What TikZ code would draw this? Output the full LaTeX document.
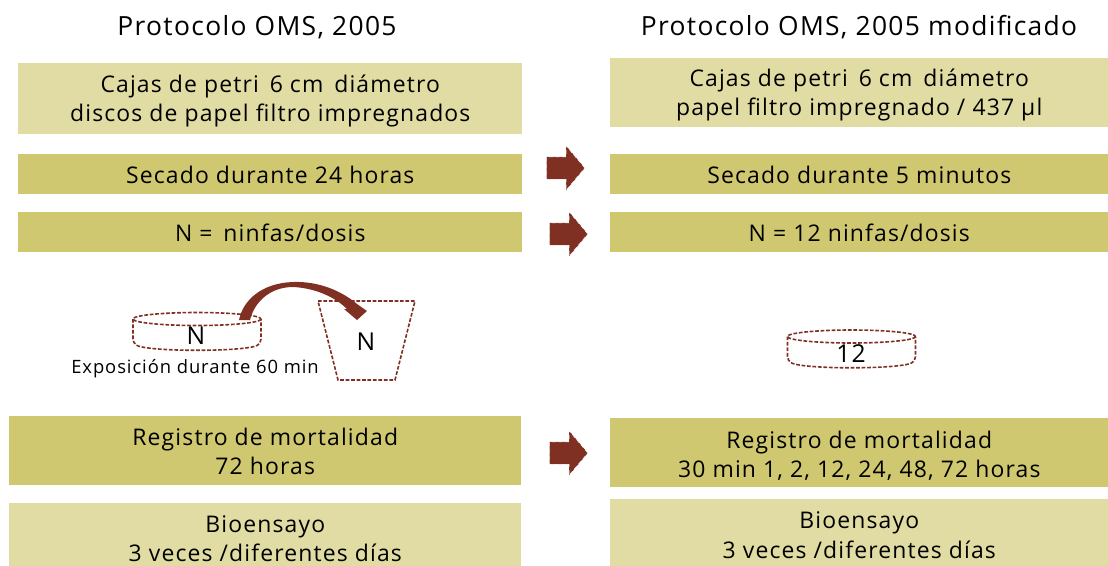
\documentclass[tikz,border=0pt]{standalone}
\usepackage{fontspec}
\setmainfont{Open Sans}[LetterSpace=5]
\usepackage{tikz}
\usetikzlibrary{positioning,shapes.arrows}
\definecolor{pale}{HTML}{E0DCA3}
\definecolor{olive}{HTML}{CFC870}
\definecolor{brick}{HTML}{7F3022}
\newcommand{\dropline}[1][16.5pt]{\rule{0pt}{#1}}

\begin{document}
\begin{tikzpicture}[
  x=0.75pt, y=-0.75pt,
  font=\fontsize{17.2}{22}\selectfont,
  head/.style={font=\fontsize{19.8}{22}\selectfont},
  mark letter/.style={font=\fontsize{18.5}{22}\selectfont},
  bar/.style={align=center, inner sep=0pt, anchor=north west, minimum width=#1*0.75pt,
    execute at begin node=\rule{0pt}{18pt}, execute at end node=\rule[-4pt]{0pt}{4pt}},
  lite/.style={bar=#1, fill=pale},
  dark/.style={bar=#1, fill=olive},
  slim/.style={minimum height=30pt},
  tall/.style={minimum height=51.75pt},
  blockarr/.style={single arrow, fill=brick, draw=white, densely dashed, line width=0.3pt, inner sep=0pt, inner ysep=8.25pt,
    single arrow head extend=8.25pt, single arrow tip angle=100, minimum height=28.5pt, anchor=tip},
  dashline/.style={draw=brick, line width=1.2pt, dash pattern=on 2.8pt off 1.3pt},
  dish/.pic={
    \draw[dashline, rounded corners=3pt] (-64,-13) -- (-64,11) .. controls (-50,20) and (50,20) .. (64,11) -- (64,-13);
    \draw[dashline] (0,-13) ellipse [x radius=64, y radius=6.5];
  }]
\useasboundingbox (0,0) rectangle (1108,565);
% left column
\node[head] (titleL) at (257,27) {Protocolo OMS, 2005};
\node[lite=504, tall, minimum height=53.25pt] (cajasL) at (18,63) {\dropline Cajas de petri\, 6 cm\, diámetro\\discos de papel filtro impregnados};
\node[dark=504, slim, below=14.25pt of cajasL.south west, anchor=north west] (secadoL) {Secado durante 24 horas};
\node[dark=504, slim, below=13.5pt of secadoL.south west, anchor=north west] (ninfasL) {N =\, ninfas/dosis};
\node[dark=512, tall] (registroL) at (9,416) {\dropline[18pt]Registro de mortalidad\\72 horas};
\node[lite=512, minimum height=53.5pt] (bioL) at (9,503) {\dropline Bioensayo\\3 veces /diferentes días};
% right column
\node[head] (titleR) at (859,27) {Protocolo OMS, 2005 modificado};
\node[lite=498, tall] (cajasR) at (610,58) {\dropline Cajas de petri\, 6 cm\, diámetro\\papel filtro impregnado / 437 µl};
\node[dark=498, slim, below=19.5pt of cajasR.south west, anchor=north west] (secadoR) {Secado durante 5 minutos};
\node[dark=498, slim, below=13.5pt of secadoR.south west, anchor=north west] (ninfasR) {N = 12 ninfas/dosis};
\node[dark=498, tall] (registroR) at (610,418) {\dropline[19pt]Registro de mortalidad\\30 min 1, 2, 12, 24, 48, 72 horas};
\node[lite=498, minimum height=54pt] (bioR) at (610,499) {\dropline Bioensayo\\3 veces /diferentes días};
% block arrows
\node[blockarr] (arrA) at (585,168) {};
\node[blockarr] (arrB) at (588,234) {};
\node[blockarr] (arrC) at (588,453) {};
% dishes and cup
\pic at (197,332) {dish};
\pic at (851.5,349.5) {dish};
\draw[dashline] (318,301) -- (415,301) -- (395,380) -- (338,380) -- cycle;
\node[mark letter] (nDish) at (196,336) {N};
\node[mark letter] (nCup) at (366,342) {N};
\node[mark letter] (nTwelve) at (851,354) {12};
\node[font=\fontsize{13.8}{15}\selectfont] (expo) at (195,369) {Exposición durante 60 min};
% transfer arrow
\coordinate (start) at (239,320);
\coordinate (tip) at (357,320);
\fill[brick] (start) .. controls (243,300) and (262,283) .. (293,282)
  .. controls (320,281) and (343,292) .. (357,304) -- (367,311) -- (tip) -- (344,309) -- (347,309)
  .. controls (335,297) and (315,288) .. (293,287)
  .. controls (272,287) and (255,300) .. (250,320) -- cycle;
\end{tikzpicture}
\end{document}
